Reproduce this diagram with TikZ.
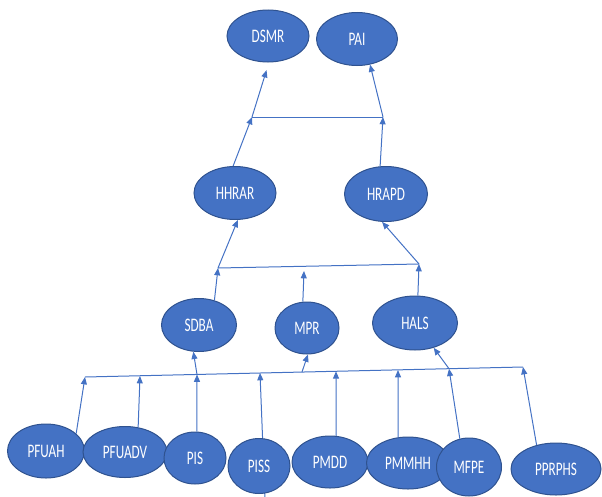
\documentclass[tikz,border=0pt]{standalone}
\usepackage{fontspec}
\setmainfont{Carlito}
\usetikzlibrary{shapes.geometric,arrows.meta}
\definecolor{ofblue}{HTML}{4472C4}
\definecolor{ofdark}{HTML}{2F528F}
\newcommand{\tallt}[1]{\scalebox{1}[1.45]{#1}}
\pgfdeclarelayer{bg}\pgfsetlayers{bg,main}
\begin{document}
\begin{tikzpicture}[x=0.75pt,y=-0.75pt,
  oval/.style 2 args={ellipse, fill=ofblue, draw=ofdark, line width=0.75pt, text=white,
    inner sep=0pt, minimum width=#1*0.75pt, minimum height=#2*0.75pt,
    font=\fontsize{9.9pt}{11pt}\selectfont},
  link/.style={draw=ofblue, line width=0.75pt},
  arr/.style={link, -{Triangle[length=5.5pt,width=4.5pt]}}]
\useasboundingbox (0,0) rectangle (602,496);
% nodes
\node[oval={82}{52}] (DSMR) at (268,36) {\tallt{DSMR}};
\node[oval={81}{53}] (PAI) at (357,39) {\tallt{PAI}};
\node[oval={82}{53}] (HHRAR) at (235,193) {\tallt{HHRAR}};
\node[oval={83}{55}] (HRAPD) at (386,194) {\tallt{HRAPD}};
\node[oval={75}{53}] (SDBA) at (199,325) {\tallt{SDBA}};
\node[oval={64}{52}] (MPR) at (307,328) {\tallt{MPR}};
\node[oval={85}{54}] (HALS) at (415,323) {\tallt{HALS}};
\node[oval={77}{54}] (PFUAH) at (46,451) {\tallt{PFUAH}};
\node[oval={84}{51}] (PFUADV) at (125,452) {\tallt{PFUADV}};
\node[oval={62}{52}] (PIS) at (195,458) {\tallt{PIS}};
\node[oval={62}{55}] (PISS) at (259,466) {\tallt{PISS}};
\node[oval={76}{52}] (PMDD) at (330,462) {\tallt{PMDD}};
\node[oval={83}{52}] (PMMHH) at (408,463) {\tallt{PMMHH}};
\node[oval={65}{58}] (MFPE) at (469,467) {\tallt{MFPE}};
\node[oval={90}{52}] (PPRPHS) at (556,469) {\tallt{PPRPHS}};
% junction coordinates
\coordinate (tl) at (252,117);
\coordinate (tr) at (383,117);
\coordinate (ml) at (218,268);
\coordinate (mm) at (304,271);
\coordinate (mr) at (419,264);
\coordinate (bl) at (85,377);
\coordinate (br) at (523,367);
\coordinate (bB) at (140,376);
\coordinate (bC) at (197,374.5);
\coordinate (bD) at (260,373);
\coordinate (bM) at (302,372);
\coordinate (bE) at (336,371.3);
\coordinate (bF) at (398,370);
\coordinate (bG) at (449,368.7);
\coordinate (pissfoot) at (265,500);
% bars
\draw[link] (tl) -- (tr);
\draw[link] (ml) -- (mr);
\draw[link] (bl) -- (br);
% bottom row to bar
\draw[arr] (PFUAH.30) -- (bl);
\draw[arr] (PFUADV.62) -- (bB);
\draw[arr] (PIS.86) -- (bC);
\begin{pgfonlayer}{bg}
\draw[arr] (pissfoot) -- (bD);
\end{pgfonlayer}
\draw[arr] (PMDD.77) -- (bE);
\draw[arr] (PMMHH.111) -- (bF);
\draw[arr] (MFPE.108) -- (bG);
\draw[arr] (PPRPHS.129) -- (br);
% bar to middle row
\draw[arr] (bC) -- (SDBA.258);
\draw[arr] (bM) -- (MPR.272);
\draw[arr] (bG) -- (HALS.307);
% middle row to middle bar
\draw[arr] (SDBA.58) -- (ml);
\draw[arr] (MPR.99) -- (mm);
\draw[arr] (HALS.84) -- (mr);
\draw[arr] (ml) -- (HHRAR.276);
\draw[arr] (mr) -- (HRAPD.262);
% upper
\draw[arr] (HHRAR.94) -- (tl);
\draw[arr] (HRAPD.102) -- (tr);
\draw[arr, shorten >=6pt] (tl) -- (DSMR.272);
\draw[arr] (tr) -- (PAI.297);
\end{tikzpicture}
\end{document}
